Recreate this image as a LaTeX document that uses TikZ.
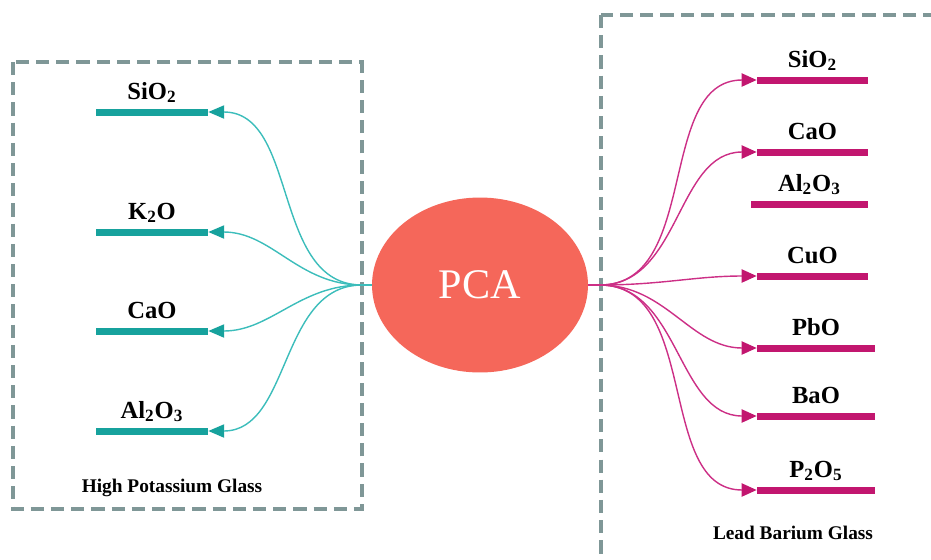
\documentclass[tikz,border=0pt]{standalone}
\usepackage{fontspec}
\setmainfont{Liberation Serif}
\usetikzlibrary{arrows.meta,shapes.geometric}

\definecolor{hkteal}{HTML}{17A29D}
\definecolor{hkline}{HTML}{3CBDBB}
\definecolor{pbpink}{HTML}{C2166F}
\definecolor{pbline}{HTML}{CC2F86}
\definecolor{pcared}{HTML}{F5675A}
\definecolor{boxgray}{HTML}{7F9797}

\tikzset{
  oxide/.style={font=\fontsize{14}{16}\selectfont\bfseries, anchor=base, inner sep=0pt},
  glasstitle/.style={font=\fontsize{11}{13}\selectfont\bfseries, inner sep=0pt},
  tealbar/.style={fill=hkteal, inner sep=0pt, minimum width=2.24cm, minimum height=0.14cm},
  pinkbar/.style={fill=pbpink, inner sep=0pt, minimum width=#1, minimum height=0.14cm},
  glassbox/.style={draw=boxgray, line width=2.4pt, dash pattern=on 7.5pt off 4pt},
  tealarrow/.style={draw=hkline, line width=0.8pt, -{Triangle[length=9pt,width=7.5pt,color=hkteal]}},
  pinkarrow/.style={draw=pbline, line width=0.8pt, -{Triangle[length=8.5pt,width=7.5pt,color=pbpink]}},
}

\begin{document}
\begin{tikzpicture}[x=0.02cm, y=-0.02cm]
\useasboundingbox (0,0) rectangle (931,559);

% Glass groups
\draw[glassbox] (13,62) rectangle (362,509);
\draw[glassbox] (601,15) rectangle (945,566);
\node[glasstitle] (hkglass) at (172,488) {High Potassium Glass};
\node[glasstitle] (pbglass) at (793,533) {Lead Barium Glass};

% PCA in the middle
\node[ellipse, fill=pcared, minimum width=4.32cm, minimum height=3.5cm,
      text=white, font=\fontsize{24}{28}\selectfont] (pca) at (480,285) {PCA};
\coordinate (lhub) at (362,285);
\coordinate (rhub) at (600,285);
\draw[hkline, line width=0.8pt] (pca.west) -- (lhub);
\draw[pbline, line width=0.8pt] (pca.east) -- (rhub);

% High potassium oxides
\node[tealbar] (sio2l) at (152,112) {};
\node[tealbar] (k2ol) at (152,232) {};
\node[tealbar] (caol) at (152,331) {};
\node[tealbar] (al2o3l) at (152,431) {};
\node[oxide] (sio2l-t) at ([yshift=0.26cm]sio2l.center) {SiO\textsubscript{2}};
\node[oxide] (k2ol-t) at ([yshift=0.26cm]k2ol.center) {K\textsubscript{2}O};
\node[oxide] (caol-t) at ([yshift=0.26cm]caol.center) {CaO};
\node[oxide] (al2o3l-t) at ([yshift=0.26cm]al2o3l.center) {Al\textsubscript{2}O\textsubscript{3}};

\draw[tealarrow] (lhub) to[out=180,in=0] (sio2l.east);
\draw[tealarrow] (lhub) to[out=180,in=0] (k2ol.east);
\draw[tealarrow] (lhub) to[out=180,in=0] (caol.east);
\draw[tealarrow] (lhub) to[out=180,in=0] (al2o3l.east);

% Lead barium oxides
\node[pinkbar=2.22cm] (sio2r) at (812.5,80) {};
\node[pinkbar=2.22cm] (caor) at (812.5,152) {};
\node[pinkbar=2.34cm] (al2o3r) at (809.5,204) {};
\node[pinkbar=2.22cm] (cuor) at (812.5,276) {};
\node[pinkbar=2.36cm] (pbor) at (816,348) {};
\node[pinkbar=2.36cm] (baor) at (816,416) {};
\node[pinkbar=2.36cm] (p2o5r) at (816,490) {};
\node[oxide] (sio2r-t) at ([yshift=0.26cm]sio2r.center) {SiO\textsubscript{2}};
\node[oxide] (caor-t) at ([yshift=0.26cm]caor.center) {CaO};
\node[oxide] (al2o3r-t) at ([yshift=0.26cm]al2o3r.center) {Al\textsubscript{2}O\textsubscript{3}};
\node[oxide] (cuor-t) at ([yshift=0.26cm]cuor.center) {CuO};
\node[oxide] (pbor-t) at ([yshift=0.26cm]pbor.center) {PbO};
\node[oxide] (baor-t) at ([yshift=0.26cm]baor.center) {BaO};
\node[oxide] (p2o5r-t) at ([yshift=0.26cm]p2o5r.center) {P\textsubscript{2}O\textsubscript{5}};

\draw[pinkarrow] (rhub) to[out=0,in=180] (sio2r.west);
\draw[pinkarrow] (rhub) to[out=0,in=180] (caor.west);
\draw[pinkarrow] (rhub) to[out=0,in=180] (cuor.west);
\draw[pinkarrow] (rhub) to[out=0,in=180] (pbor.west);
\draw[pinkarrow] (rhub) to[out=0,in=180] (baor.west);
\draw[pinkarrow] (rhub) to[out=0,in=180] (p2o5r.west);

\end{tikzpicture}
\end{document}
